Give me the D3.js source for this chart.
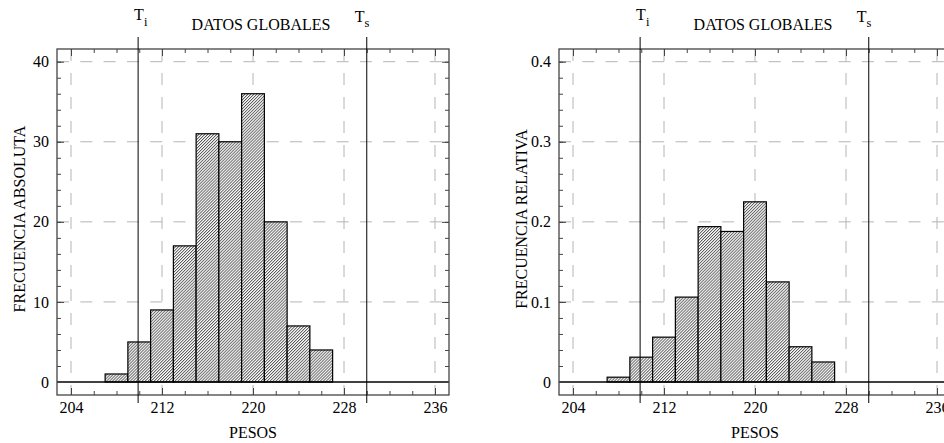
<!DOCTYPE html>
<html lang="en">
<head>
  <meta charset="UTF-8">
  <title>Datos globales</title>
  <script src="https://d3js.org/d3.v7.min.js"></script>
  <style>
    body { margin: 0; background: #fff; }
    svg { display: block; }
    svg text { font-family: "Liberation Serif", "DejaVu Serif", serif; fill: #000; }
  </style>
</head>
<body>
  <div id="chart"></div>
  <script>
    // histogram bins (left edge, width 2)
    const binStarts = [207, 209, 211, 213, 215, 217, 219, 221, 223, 225];
    const binWidth = 2;
    const absCounts = [1, 5, 9, 17, 31, 30, 36, 20, 7, 4];
    const relFreqs = [0.006, 0.031, 0.056, 0.106, 0.194, 0.188, 0.225, 0.125, 0.044, 0.025];

    const xTicks = [204, 212, 220, 228, 236];
    const absTicks = [0, 10, 20, 30, 40];
    const absLabels = ['0', '10', '20', '30', '40'];
    const relTicks = [0, 0.1, 0.2, 0.3, 0.4];
    const relLabels = ['0', '0.1', '0.2', '0.3', '0.4'];

    const limitTi = 209.9;
    const limitTs = 230;

    const width = 944, height = 443;
    const frame = { left: 57, top: 49, right: 449, bottom: 395 };
    const serif = '"Liberation Serif", "DejaVu Serif", serif';
    const fs = 16;

    const panels = [
      { dx: 0, yLabel: 'FRECUENCIA ABSOLUTA', values: absCounts, ticks: absTicks, labels: absLabels, top: 40, minor: 2 },
      { dx: 502, yLabel: 'FRECUENCIA RELATIVA', values: relFreqs, ticks: relTicks, labels: relLabels, top: 0.4, minor: 0.02 }
    ];

    const svg = d3.select('#chart').append('svg')
      .attr('width', width)
      .attr('height', height)
      .attr('font-family', serif);

    // fine diagonal hatching
    const pat = svg.append('defs').append('pattern')
      .attr('id', 'hatch')
      .attr('patternUnits', 'userSpaceOnUse')
      .attr('patternTransform', 'rotate(45)')
      .attr('width', 2.1).attr('height', 2.1);
    pat.append('rect').attr('width', 2.1).attr('height', 2.1).attr('fill', '#fff');
    pat.append('rect').attr('width', 0.9).attr('height', 2.1).attr('fill', '#555');

    const x = d3.scaleLinear().domain([204, 236]).range([71, 435]);

    panels.forEach(p => {
      const g = svg.append('g').attr('transform', `translate(${p.dx},0)`);
      const y = d3.scaleLinear().domain([0, p.top]).range([382, 61.7]);
      const minorTicks = d3.range(0, p.top + p.minor / 2, p.minor);
      const minorX = d3.range(204, 237, 2);

      // dashed grid
      g.selectAll('.vgrid').data(xTicks).enter().append('line')
        .attr('x1', d => x(d)).attr('x2', d => x(d))
        .attr('y1', frame.top).attr('y2', frame.bottom)
        .attr('stroke', '#b4b4b4').attr('stroke-dasharray', '12,12');
      g.selectAll('.hgrid').data(p.ticks.filter(d => d > 0)).enter().append('line')
        .attr('x1', frame.left).attr('x2', frame.right)
        .attr('y1', d => y(d)).attr('y2', d => y(d))
        .attr('stroke', '#b4b4b4').attr('stroke-dasharray', '12,11.3');

      // bars
      g.selectAll('.bar').data(binStarts).enter().append('rect')
        .attr('x', d => x(d))
        .attr('width', d => x(d + binWidth) - x(d))
        .attr('y', (d, i) => y(p.values[i]))
        .attr('height', (d, i) => y(0) - y(p.values[i]))
        .attr('fill', 'url(#hatch)')
        .attr('stroke', '#000').attr('stroke-width', 1.2);

      // zero line
      g.append('line')
        .attr('x1', frame.left).attr('x2', frame.right)
        .attr('y1', y(0)).attr('y2', y(0))
        .attr('stroke', '#000').attr('stroke-width', 1.3);

      // axes with inward ticks
      const fmt = d => p.labels[p.ticks.indexOf(d)];
      const axisStyle = a => {
        a.attr('font-family', serif).attr('font-size', fs);
        a.select('.domain').remove();
        a.selectAll('line').attr('stroke', '#444');
        a.selectAll('text').attr('fill', '#000');
      };
      g.append('g').attr('transform', `translate(${frame.left},0)`)
        .call(d3.axisLeft(y).tickValues(p.ticks).tickFormat(fmt).tickSize(-7).tickPadding(8))
        .call(axisStyle);
      g.append('g').attr('transform', `translate(${frame.left},0)`)
        .call(d3.axisLeft(y).tickValues(minorTicks).tickFormat('').tickSize(-4))
        .call(axisStyle);
      g.append('g').attr('transform', `translate(${frame.right},0)`)
        .call(d3.axisRight(y).tickValues(p.ticks).tickFormat('').tickSize(-7))
        .call(axisStyle);
      g.append('g').attr('transform', `translate(${frame.right},0)`)
        .call(d3.axisRight(y).tickValues(minorTicks).tickFormat('').tickSize(-4))
        .call(axisStyle);
      g.append('g').attr('transform', `translate(0,${frame.bottom})`)
        .call(d3.axisBottom(x).tickValues(xTicks).tickSize(-7).tickPadding(6.5))
        .call(axisStyle);
      g.append('g').attr('transform', `translate(0,${frame.bottom})`)
        .call(d3.axisBottom(x).tickValues(minorX).tickFormat('').tickSize(-4))
        .call(axisStyle);
      g.append('g').attr('transform', `translate(0,${frame.top})`)
        .call(d3.axisTop(x).tickValues(xTicks).tickFormat('').tickSize(-7))
        .call(axisStyle);
      g.append('g').attr('transform', `translate(0,${frame.top})`)
        .call(d3.axisTop(x).tickValues(minorX).tickFormat('').tickSize(-4))
        .call(axisStyle);

      g.append('rect')
        .attr('x', frame.left).attr('y', frame.top)
        .attr('width', frame.right - frame.left)
        .attr('height', frame.bottom - frame.top)
        .attr('fill', 'none').attr('stroke', '#444').attr('stroke-width', 1.3);

      // tolerance limits
      [limitTi, limitTs].forEach(v => {
        g.append('line')
          .attr('x1', x(v)).attr('x2', x(v))
          .attr('y1', 37).attr('y2', 403)
          .attr('stroke', '#000').attr('stroke-width', 1);
      });

      const ti = g.append('text').attr('x', x(limitTi) - 4).attr('y', 20).attr('font-size', fs);
      ti.append('tspan').text('T');
      ti.append('tspan').attr('dy', 6).attr('font-size', 12.5).text('i');
      const ts = g.append('text').attr('x', x(limitTs) - 12).attr('y', 22).attr('font-size', fs);
      ts.append('tspan').text('T');
      ts.append('tspan').attr('dy', 5).attr('font-size', 12.5).text('s');

      g.append('text')
        .attr('x', 261).attr('y', 29.5)
        .attr('text-anchor', 'middle').attr('font-size', fs)
        .text('DATOS GLOBALES');

      g.append('text')
        .attr('x', 253).attr('y', 438)
        .attr('text-anchor', 'middle').attr('font-size', fs)
        .text('PESOS');

      g.append('text')
        .attr('transform', `translate(25,${(frame.top + frame.bottom) / 2 - 3}) rotate(-90)`)
        .attr('text-anchor', 'middle').attr('font-size', fs)
        .text(p.yLabel);
    });
  </script>
</body>
</html>
